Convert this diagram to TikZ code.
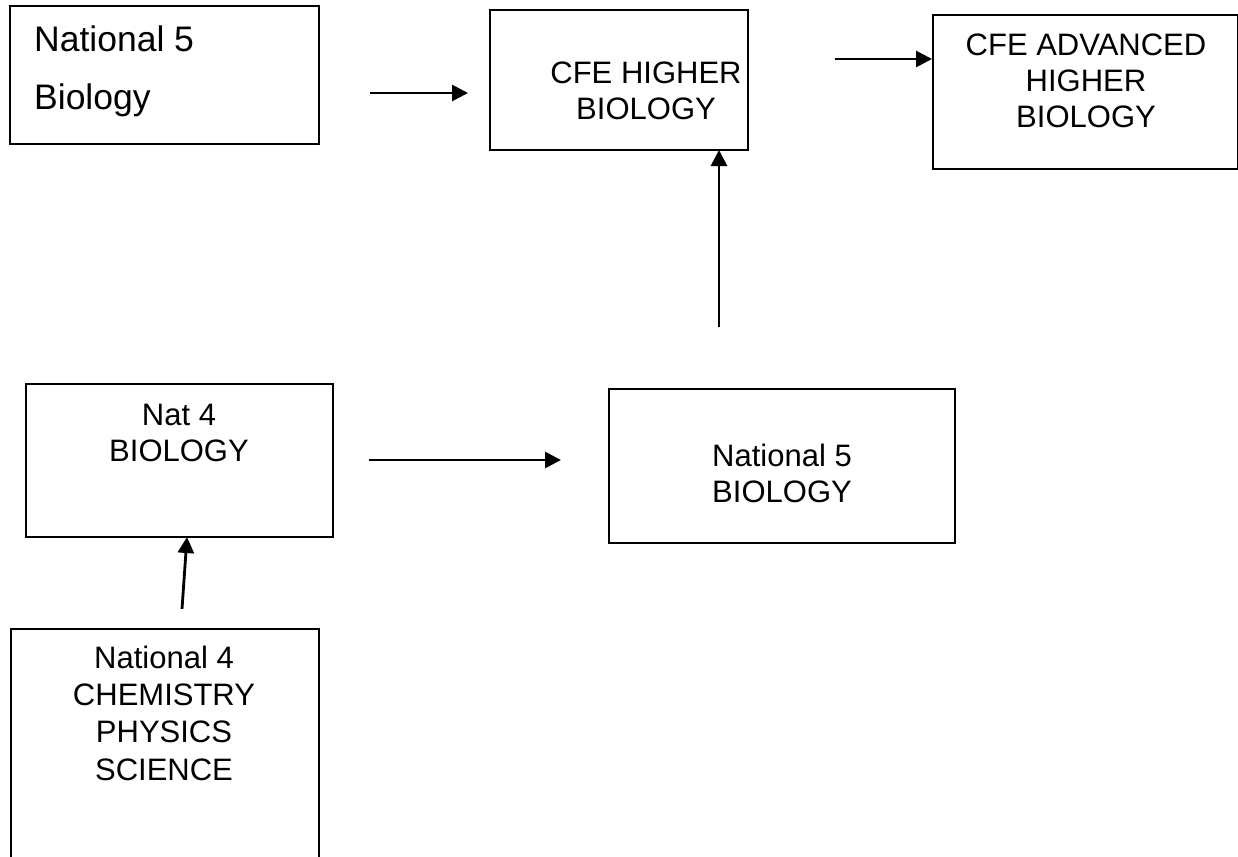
\documentclass[tikz,border=0pt]{standalone}
\usepackage{fontspec}
\setmainfont{Liberation Sans}
\usetikzlibrary{arrows.meta}
\begin{document}
\begin{tikzpicture}[x=1pt,y=-1pt,
  box/.style={draw=black,line width=2pt,inner sep=0pt,anchor=north west},
  lbl/.style={inner sep=0pt,anchor=base,align=center,font=\fontsize{31}{36}\selectfont},
  arr/.style={line width=2.8pt,-{Triangle[length=16pt,width=16pt]}}]
\useasboundingbox (0,0) rectangle (1238,856);
\clip (0,0) rectangle (1238,856);
% boxes
\node[box,minimum width=309pt,minimum height=138pt] (n5a) at (9,5) {};
\node[box,minimum width=258pt,minimum height=140pt] (hi) at (489,9) {};
\node[box,minimum width=305pt,minimum height=154pt] (adv) at (932,14) {};
\node[box,minimum width=307pt,minimum height=153pt] (n4b) at (25,383) {};
\node[box,minimum width=346pt,minimum height=154pt] (n5b) at (608,388) {};
\node[box,minimum width=308pt,minimum height=240pt] (n4s) at (10,628) {};
% texts (anchor base = baseline of the last line)
\node[inner sep=0pt,anchor=base west,align=left,font=\fontsize{35.5}{58}\selectfont] (t1) at (34,110) {National 5\\Biology};
\node[lbl] (t2) at (646,120) {CFE HIGHER\\BIOLOGY};
\node[lbl] (t3) at (1086,128) {CFE ADVANCED\\HIGHER\\BIOLOGY};
\node[lbl] (t4) at (179,461) {Nat 4\\BIOLOGY};
\node[lbl] (t5) at (782,502) {National 5\\BIOLOGY};
\node[lbl,font=\fontsize{31}{37.3}\selectfont] (t6) at (164,780) {National 4\\CHEMISTRY\\PHYSICS\\SCIENCE};
% arrow ends
\coordinate (a1s) at (370,93);  \coordinate (a1e) at (468,93);
\coordinate (a2s) at (835,59);  \coordinate (a2e) at (932,59);
\coordinate (a3s) at (369,460); \coordinate (a3e) at (561,460);
\coordinate (a4s) at (719,327); \coordinate (a4e) at (719,150);
\coordinate (a5s) at (182,609); \coordinate (a5e) at (187,537);
\draw[arr] (a1s) -- (a1e);
\draw[arr] (a2s) -- (a2e);
\draw[arr] (a3s) -- (a3e);
\draw[arr] (a4s) -- (a4e);
\draw[arr] (a5s) -- (a5e);
\end{tikzpicture}
\end{document}
